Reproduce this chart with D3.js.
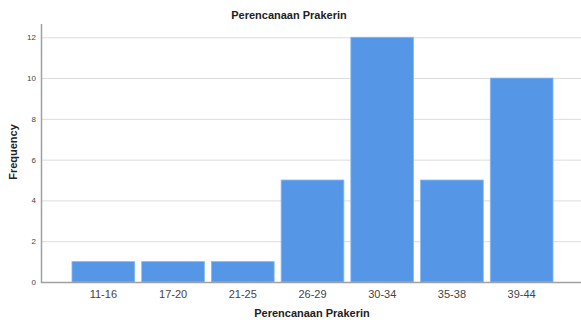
<!DOCTYPE html>
<html><head><meta charset="utf-8">
<script src="https://cdn.jsdelivr.net/npm/d3@7"></script>
<style>body{margin:0;background:#fff}svg{display:block}text{font-family:"Liberation Sans",Arial,sans-serif}</style>
</head><body><svg id="c" width="581" height="320"></svg>
<script>
const categories = ["11-16","17-20","21-25","26-29","30-34","35-38","39-44"];
const frequency = [1,1,1,5,12,5,10];
const yTicks = [0,2,4,6,8,10,12];
const title = "Perencanaan Prakerin";
const xTitle = "Perencanaan Prakerin";
const yTitle = "Frequency";

const svg = d3.select("#c");
const mLeft = 41, mRight = 581, mTop = 24, mBottom = 282;
const x = d3.scaleBand().domain(categories).range([68.5, 556.5]).paddingInner(0.1).paddingOuter(0.05);
const y = d3.scaleLinear().domain([0, 12.65]).range([mBottom, mTop]);

// gridlines
svg.append("g").selectAll("line").data(yTicks.filter(d=>d>0)).join("line")
  .attr("x1", mLeft).attr("x2", mRight).attr("y1", d=>y(d)+0.5).attr("y2", d=>y(d)+0.5)
  .attr("stroke", "#dcdcdc").attr("stroke-width", 1);

// bars
svg.append("g").selectAll("rect").data(categories).join("rect")
  .attr("x", (d)=>x(d)).attr("width", x.bandwidth())
  .attr("y", (d,i)=>y(frequency[i])).attr("height", (d,i)=>y(0)-y(frequency[i]))
  .attr("fill", "#5596e6").attr("stroke", "#8ab8f0").attr("stroke-width", 0.8);

// axes
const yAxis = d3.axisLeft(y).tickValues(yTicks).tickSize(0).tickPadding(5);
const gy = svg.append("g").attr("transform", `translate(${mLeft},0)`).call(yAxis);
gy.select(".domain").remove();
gy.selectAll("text").attr("font-size", 8).attr("fill", "#444").attr("font-family", "Liberation Sans, Arial, sans-serif");
svg.append("line").attr("x1", mLeft+0.5).attr("x2", mLeft+0.5).attr("y1", mTop).attr("y2", mBottom+1).attr("stroke", "#a0a0a0").attr("stroke-width", 1.5);
svg.append("line").attr("x1", mLeft).attr("x2", mRight).attr("y1", mBottom+0.5).attr("y2", mBottom+0.5).attr("stroke", "#a0a0a0").attr("stroke-width", 1.5);

const xAxis = d3.axisBottom(x).tickSize(0).tickPadding(8);
const gx = svg.append("g").attr("transform", `translate(0,${mBottom})`).call(xAxis);
gx.select(".domain").remove();
gx.selectAll("text").attr("font-size", 11).attr("fill", "#444").attr("font-family", "Liberation Sans, Arial, sans-serif");

svg.append("text").attr("x", 289).attr("y", 19).attr("text-anchor", "middle")
  .attr("font-size", 11).attr("font-weight", "bold").attr("fill", "#222").text(title);
svg.append("text").attr("x", 312).attr("y", 317).attr("text-anchor", "middle")
  .attr("font-size", 11).attr("font-weight", "bold").attr("fill", "#222").text(xTitle);
svg.append("text").attr("transform", "translate(17,152) rotate(-90)").attr("text-anchor", "middle")
  .attr("font-size", 11).attr("font-weight", "bold").attr("fill", "#222").text(yTitle);
</script></body></html>
